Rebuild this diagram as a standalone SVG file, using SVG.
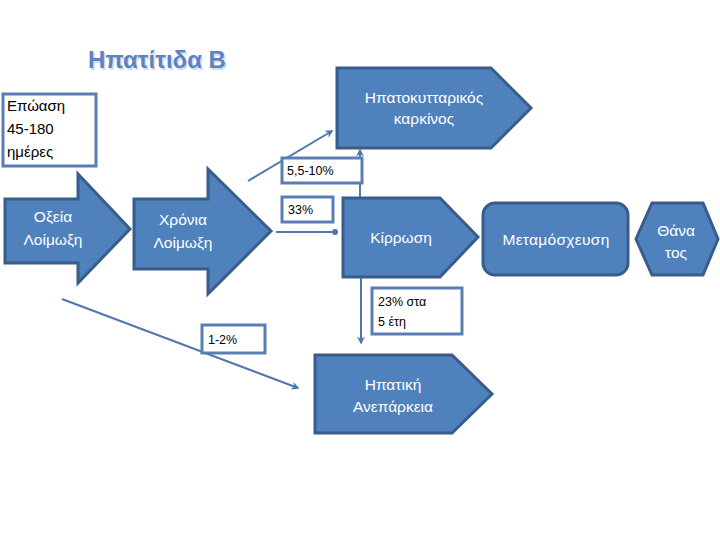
<svg xmlns="http://www.w3.org/2000/svg" width="720" height="540" viewBox="0 0 720 540">
<style>
.shape{fill:#4f81bd;stroke:#385d8a;stroke-width:3;stroke-linejoin:miter}
.lbl{fill:#ffffff;stroke:#5a7eb4;stroke-width:3}
.wt{font-family:"Liberation Sans",Arial,sans-serif;font-size:15.5px;fill:#ffffff;text-anchor:middle}
.bt{font-family:"Liberation Sans",Arial,sans-serif;font-size:15px;fill:#000000}
.st{font-family:"Liberation Sans",Arial,sans-serif;font-size:12.5px;fill:#000000}
.conn{stroke:#4f77ae;stroke-width:2;fill:none}
</style>
<defs>
<marker id="arr" viewBox="0 0 10 10" refX="8" refY="5" markerWidth="4" markerHeight="4" orient="auto" markerUnits="strokeWidth">
<path d="M0,0 L10,5 L0,10 L3,5 z" fill="#4f77ae"/>
</marker>
<marker id="dot" viewBox="0 0 10 10" refX="5" refY="5" markerWidth="3" markerHeight="3" orient="auto" markerUnits="strokeWidth">
<circle cx="5" cy="5" r="5" fill="#4f77ae"/>
</marker>
</defs>
<rect width="720" height="540" fill="#ffffff"/>

<g id="title">
<text x="158.5" y="69.5" font-family="'Liberation Sans',Arial,sans-serif" font-size="24" font-weight="bold" text-anchor="middle" fill="#d2dcec">Ηπατίτιδα Β</text>
<text x="157" y="68" font-family="'Liberation Sans',Arial,sans-serif" font-size="24" font-weight="bold" text-anchor="middle" fill="#5b82c2">Ηπατίτιδα Β</text>
</g>

<g id="incubation">
<rect class="lbl" x="3" y="94" width="93" height="72"/>
<text class="bt" x="7" y="111">Επώαση</text>
<text class="bt" x="7" y="134">45-180</text>
<text class="bt" x="7" y="157">ημέρες</text>
</g>

<g id="acute">
<path class="shape" d="M5,199 L78,199 L78,174 L130,229 L78,283 L78,263 L5,263 Z"/>
<text class="wt" x="53" y="222">Οξεία</text>
<text class="wt" x="53" y="245">Λοίμωξη</text>
</g>

<g id="chronic">
<path class="shape" d="M134,199 L208,199 L208,169 L271,231 L208,294 L208,269 L134,269 Z"/>
<text class="wt" x="183" y="225">Χρόνια</text>
<text class="wt" x="183" y="248">Λοίμωξη</text>
</g>

<g id="hcc">
<path class="shape" d="M337,68 L491,68 L531,108 L491,148 L337,148 Z"/>
<text class="wt" x="424" y="103">Ηπατοκυτταρικός</text>
<text class="wt" x="424" y="124">καρκίνος</text>
</g>

<g id="cirrhosis">
<path class="shape" d="M343,198 L440,198 L478,237 L440,277 L343,277 Z"/>
<text class="wt" x="401" y="243">Κίρρωση</text>
</g>

<g id="transplant">
<rect class="shape" x="483" y="203" width="145" height="72" rx="12" ry="12"/>
<text class="wt" x="556" y="245" font-size="14" letter-spacing="0.3">Μεταμόσχευση</text>
</g>

<g id="death">
<path class="shape" d="M636,239 L652,203 L703,203 L718,239 L703,275 L652,275 Z"/>
<text class="wt" x="676" y="236">Θάνα</text>
<text class="wt" x="676" y="258">τος</text>
</g>

<g id="failure">
<path class="shape" d="M315,355 L452,355 L492,394 L452,433 L315,433 Z"/>
<text class="wt" x="393" y="390">Ηπατική</text>
<text class="wt" x="393" y="412">Ανεπάρκεια</text>
</g>

<g id="connectors">
<line class="conn" x1="248" y1="181" x2="332" y2="131" marker-end="url(#arr)"/>
<line class="conn" x1="360" y1="197" x2="360" y2="150" marker-end="url(#arr)"/>
<line class="conn" x1="276" y1="232" x2="335" y2="232" marker-end="url(#dot)"/>
<line class="conn" x1="361" y1="278" x2="361" y2="343" marker-end="url(#arr)"/>
<line class="conn" x1="62" y1="299" x2="298" y2="388" marker-end="url(#arr)"/>
</g>

<g id="label-55">
<rect class="lbl" x="282" y="158" width="80" height="25"/>
<text class="st" x="287" y="175">5,5-10%</text>
</g>
<g id="label-33">
<rect class="lbl" x="282" y="197" width="51" height="25"/>
<text class="st" x="288" y="214">33%</text>
</g>
<g id="label-23">
<rect class="lbl" x="372" y="288" width="90" height="46"/>
<text class="st" x="378" y="306">23% στα</text>
<text class="st" x="378" y="326">5 έτη</text>
</g>
<g id="label-12">
<rect class="lbl" x="202" y="325" width="63" height="28"/>
<text class="st" x="208" y="344">1-2%</text>
</g>
</svg>
